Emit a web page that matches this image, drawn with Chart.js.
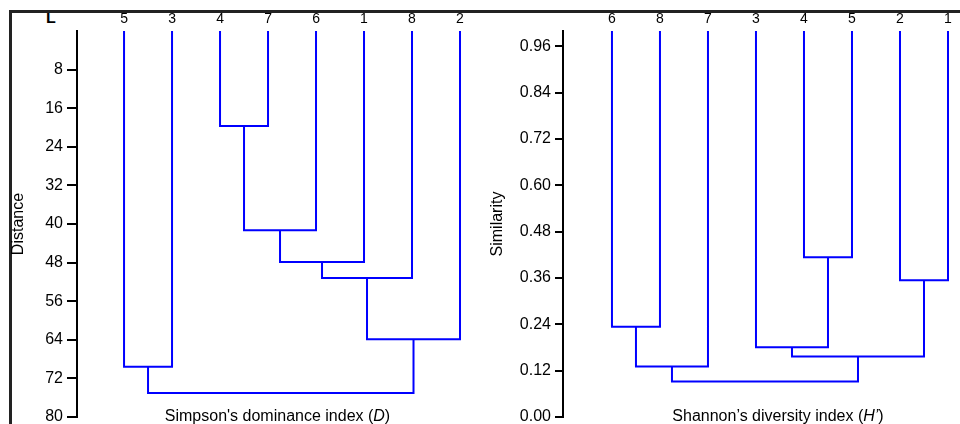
<!DOCTYPE html>
<html>
<head>
<meta charset="utf-8">
<title>Dendrograms</title>
<script src="https://cdn.jsdelivr.net/npm/chart.js@4.4.1/dist/chart.umd.min.js"></script>
<style>
    html, body { margin: 0; padding: 0; background: #fff; overflow: hidden; }
    body { width: 960px; height: 424px; position: relative; }
    .frame { position: absolute; left: 9px; top: 10px; width: 960px; height: 440px;
             border-left: 3px solid #222; border-top: 3px solid #222; }
    .panel-label { position: absolute; left: 46px; top: 9px;
                   font: bold 16px "Liberation Sans", Arial, sans-serif; color: #000; }
    #simpson { position: absolute; left: 0; top: 0; }
    #shannon { position: absolute; left: 470px; top: 0; }
</style>
</head>
<body>
<div class="panel-label">L</div>
<div class="frame"></div>
<canvas id="simpson" width="520" height="440"></canvas>
<canvas id="shannon" width="490" height="440"></canvas>
<script>
// --- 1. Data ---
// Left: Simpson's dominance index (D), distance grows downwards
const simpsonLeaves = ['5', '3', '4', '7', '6', '1', '8', '2'];
// [node A, node B, height]; nodes 0-7 are the leaves, 8 = first merge, 9 = second, ...
const simpsonMerges = [
    [2, 3, 19.7],   // 4 + 7
    [8, 4, 41.3],   // + 6
    [9, 5, 47.9],   // + 1
    [10, 6, 51.2],  // + 8
    [11, 7, 63.9],  // + 2
    [0, 1, 69.6],   // 5 + 3
    [13, 12, 75.0]  // all
];
const simpsonTicks = [8, 16, 24, 32, 40, 48, 56, 64, 72, 80];

// Right: Shannon's diversity index (H'), similarity
const shannonLeaves = ['6', '8', '7', '3', '4', '5', '2', '1'];
const shannonMerges = [
    [4, 5, 0.414],  // 4 + 5
    [6, 7, 0.354],  // 2 + 1
    [0, 1, 0.234],  // 6 + 8
    [3, 8, 0.181],  // 3 + (4,5)
    [11, 9, 0.157], // + (2,1)
    [10, 2, 0.131], // (6,8) + 7
    [13, 12, 0.092] // all
];
const shannonTicks = [0, 0.12, 0.24, 0.36, 0.48, 0.60, 0.72, 0.84, 0.96];

// --- 2. Helpers ---
const FONT = '"Liberation Sans", Arial, sans-serif';
Chart.defaults.font.family = FONT;
Chart.defaults.color = '#000';

// turn the merge list into one U-shaped polyline per merge
function dendrogramLines(leafCount, merges, leafHeight) {
    const nodeX = [], nodeH = [];
    for (let i = 0; i < leafCount; i++) { nodeX.push(i); nodeH.push(leafHeight); }
    return merges.map(([a, b, h]) => {
        const pts = [
            { x: nodeX[a], y: nodeH[a] },
            { x: nodeX[a], y: h },
            { x: nodeX[b], y: h },
            { x: nodeX[b], y: nodeH[b] }
        ];
        nodeX.push((nodeX[a] + nodeX[b]) / 2);
        nodeH.push(h);
        return pts;
    });
}

// x-axis caption with an italic symbol, drawn over the bottom of the plot
const bottomTitle = {
    id: 'bottomTitle',
    afterDraw(chart, args, opts) {
        const ctx = chart.ctx;
        const fontOf = p => (p.italic ? 'italic ' : '') + '16px ' + FONT;
        ctx.save();
        ctx.fillStyle = '#000';
        ctx.textBaseline = 'alphabetic';
        ctx.textAlign = 'left';
        let total = 0;
        opts.parts.forEach(p => { ctx.font = fontOf(p); total += ctx.measureText(p.text).width; });
        let x = opts.x - total / 2;
        opts.parts.forEach(p => {
            ctx.font = fontOf(p);
            ctx.fillText(p.text, x, opts.y);
            x += ctx.measureText(p.text).width;
        });
        ctx.restore();
    }
};

function makeDendrogram(id, leaves, merges, ticks, o) {
    const datasets = dendrogramLines(leaves.length, merges, o.leafHeight).map(pts => ({
        data: pts,
        showLine: true,
        borderColor: '#0000ff',
        borderWidth: 2,
        pointRadius: 0,
        pointHoverRadius: 0,
        fill: false,
        tension: 0
    }));

    return new Chart(document.getElementById(id), {
        type: 'scatter',
        data: { datasets },
        plugins: [bottomTitle],
        options: {
            responsive: false,
            animation: false,
            events: [],
            layout: { padding: { left: o.padLeft, right: 0, top: 0, bottom: 23 } },
            plugins: {
                legend: { display: false },
                tooltip: { enabled: false },
                bottomTitle: { x: o.titleX, y: 421, parts: o.titleParts }
            },
            scales: {
                x: {
                    type: 'linear',
                    position: 'top',
                    min: o.xMin,
                    max: o.xMax,
                    afterBuildTicks: s => { s.ticks = leaves.map((_, i) => ({ value: i })); },
                    afterFit: s => { s.height = 31; },
                    grid: { display: false },
                    border: { display: false },
                    ticks: {
                        callback: v => leaves[v],
                        font: { size: 14 },
                        color: '#000',
                        padding: -5,   // labels sit just above the plot
                        autoSkip: false,
                        maxRotation: 0
                    }
                },
                y: {
                    type: 'linear',
                    min: o.yMin,
                    max: o.yMax,
                    reverse: o.reverse,
                    afterBuildTicks: s => { s.ticks = ticks.map(v => ({ value: v })); },
                    afterFit: s => { s.width = o.axisWidth; },
                    grid: { drawOnChartArea: false, drawTicks: true, tickLength: o.tickLength, color: '#000', lineWidth: 2 },
                    border: { display: true, color: '#000', width: 2 },
                    ticks: {
                        callback: o.tickFormat,
                        font: { size: 16 },
                        color: '#000',
                        padding: 4,
                        autoSkip: false
                    },
                    title: {
                        display: true,
                        text: o.yTitle,
                        font: { size: 16 },
                        color: '#000',
                        padding: { top: 4, bottom: 4 }
                    }
                }
            }
        }
    });
}

// --- 3. The two panels ---
makeDendrogram('simpson', simpsonLeaves, simpsonMerges, simpsonTicks, {
    leafHeight: 0, yMin: 0, yMax: 80, reverse: true,
    xMin: -0.98, xMax: 8.25,
    padLeft: 5, axisWidth: 72, tickLength: 10,
    tickFormat: v => String(v),
    yTitle: 'Distance',
    titleX: 277.5,
    titleParts: [{ text: "Simpson's dominance index (" }, { text: 'D', italic: true }, { text: ')' }]
});

makeDendrogram('shannon', shannonLeaves, shannonMerges, shannonTicks, {
    leafHeight: 1, yMin: 0, yMax: 1, reverse: false,
    xMin: -1.02, xMax: 7.25,
    padLeft: 14, axisWidth: 79, tickLength: 8,
    tickFormat: v => v.toFixed(2),
    yTitle: 'Similarity',
    titleX: 308,
    titleParts: [{ text: 'Shannon\u2019s diversity index (' }, { text: 'H\u2019', italic: true }, { text: ')' }]
});
</script>
</body>
</html>
